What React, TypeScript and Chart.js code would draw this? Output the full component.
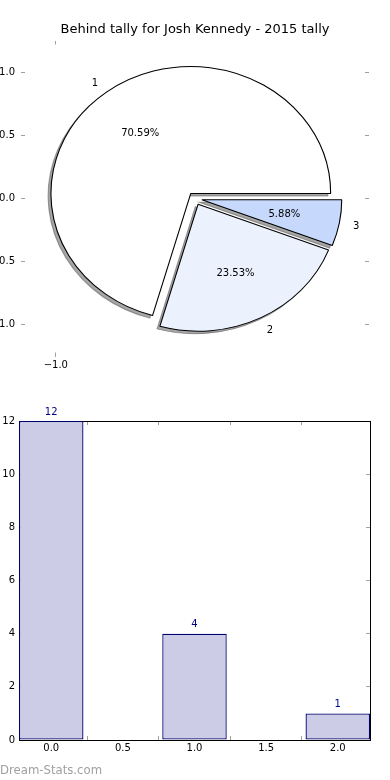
import React, { useEffect, useRef } from "react";
import { Chart, registerables } from "chart.js";

Chart.register(...registerables);

// ---------- data ----------
const TITLE = "Behind tally for Josh Kennedy - 2015 tally";
const SLICE_LABELS = ["1", "2", "3"];
const SLICE_VALUES = [12, 4, 1];
const SLICE_COLORS = ["#ffffff", "#ebf1fd", "#c6d9fd"];
const SLICE_EXPLODE = [0.05, 0.05, 0.05];
const PIE_X_TICKS = [-1.0];
const PIE_Y_TICKS = [1.0, 0.5, 0.0, -0.5, -1.0];

const BAR_X = [0, 1, 2];
const BAR_VALUES = [12, 4, 1];
const BAR_X_TICKS = [0, 0.5, 1.0, 1.5, 2.0];
const BAR_Y_TICKS = [0, 2, 4, 6, 8, 10, 12];
const WATERMARK = "Dream-Stats.com";

// ---------- helpers ----------
const FONT = "'DejaVu Sans', sans-serif";
const TICK_COLOR = "#a0a0a0";
Chart.defaults.font.family = FONT;
Chart.defaults.font.size = 10;
Chart.defaults.color = "#000";

const fmt = (v: number) => {
  const s = Math.abs(v).toFixed(1);
  return v < -1e-9 ? "\u2212" + s : s;
};

const setTicks = (arr: number[]) => (scale: any) => {
  scale.ticks = arr.map((value) => ({ value }));
};
const fixWidth = (w: number) => (scale: any) => {
  scale.width = w;
};
const fixHeight = (h: number) => (scale: any) => {
  scale.height = h;
};

const axisBase = (showBorder: boolean, padding: number) => ({
  type: "linear" as const,
  grid: {
    display: true,
    drawOnChartArea: false,
    drawTicks: true,
    tickLength: -4,
    tickColor: TICK_COLOR,
    tickWidth: 1,
  },
  border: { display: showBorder, color: "#000", width: 1 },
  ticks: { padding, color: "#000", font: { size: 10, family: FONT }, callback: (v: any) => fmt(Number(v)) },
});

// reversed order so that Chart.js's clockwise drawing matches the counter-clockwise pie
const ORDER = SLICE_VALUES.map((_, i) => SLICE_VALUES.length - 1 - i);

const piePlugin = {
  id: "mplPie",
  beforeDatasetDraw() {
    return false;
  },
  afterDatasetsDraw(chart: any) {
    const ctx = chart.ctx as CanvasRenderingContext2D;
    const meta = chart.getDatasetMeta(0);
    const xs = chart.scales.x;
    const ys = chart.scales.y;
    const ppuX = xs.getPixelForValue(1) - xs.getPixelForValue(0);
    const ppuY = ys.getPixelForValue(0) - ys.getPixelForValue(1);
    const sx = ppuX / ppuY;
    const total = SLICE_VALUES.reduce((a, b) => a + b, 0);
    const arcs = meta.data;
    const geo = arcs.map((arc: any, i: number) => {
      const p = arc.getProps(["x", "y", "startAngle", "endAngle", "outerRadius"], true);
      const orig = ORDER[i];
      const mid = (p.startAngle + p.endAngle) / 2;
      const e = SLICE_EXPLODE[orig] * p.outerRadius;
      return { arc, p, orig, mid, e };
    });
    const ellipse = (cx: number, cy: number, fn: () => void) => {
      ctx.save();
      ctx.translate(cx, cy);
      ctx.scale(sx, 1);
      ctx.translate(-cx, -cy);
      fn();
      ctx.restore();
    };
    // shadows
    geo.forEach(({ p, mid, e }: any) => {
      ellipse(p.x, p.y, () => {
        const R = p.outerRadius;
        ctx.translate(Math.cos(mid) * e - 0.02 * R, Math.sin(mid) * e + 0.02 * R);
        ctx.beginPath();
        ctx.moveTo(p.x, p.y);
        ctx.arc(p.x, p.y, R, p.startAngle, p.endAngle);
        ctx.closePath();
        ctx.fillStyle = "rgba(77,77,77,0.5)";
        ctx.strokeStyle = "rgba(77,77,77,0.5)";
        ctx.lineWidth = 1;
        ctx.fill();
        ctx.stroke();
      });
    });
    // wedges
    geo.forEach(({ arc, p, mid, e }: any) => {
      ellipse(p.x, p.y, () => {
        ctx.translate(Math.cos(mid) * e, Math.sin(mid) * e);
        arc.draw(ctx);
      });
    });
    // labels
    ctx.save();
    ctx.fillStyle = "#000";
    ctx.font = `10px ${FONT}`;
    ctx.textBaseline = "middle";
    geo.forEach(({ p, orig, mid, e }: any) => {
      const R = p.outerRadius;
      const dx = Math.cos(mid);
      const dy = Math.sin(mid);
      const lr = e + 1.1 * R;
      ctx.textAlign = dx < 0 ? "right" : "left";
      ctx.fillText(SLICE_LABELS[orig], p.x + sx * dx * lr, p.y + dy * lr + 1);
      const pr = e + 0.6 * R;
      ctx.textAlign = "center";
      ctx.fillText(((SLICE_VALUES[orig] / total) * 100).toFixed(2) + "%", p.x + sx * dx * pr, p.y + dy * pr + 1);
    });
    ctx.restore();
  },
};

const barLabelPlugin = {
  id: "barLabels",
  afterDatasetsDraw(chart: any) {
    const ctx = chart.ctx as CanvasRenderingContext2D;
    const meta = chart.getDatasetMeta(0);
    ctx.save();
    ctx.fillStyle = "#00008b";
    ctx.font = `10px ${FONT}`;
    ctx.textAlign = "center";
    ctx.textBaseline = "middle";
    meta.data.forEach((bar: any, i: number) => {
      const { x, y } = bar.getProps(["x", "y"], true);
      ctx.fillText(String(BAR_VALUES[i]), x, y - 9);
    });
    ctx.restore();
  },
};

function PieChart() {
  const ref = useRef<HTMLCanvasElement>(null);
  useEffect(() => {
    const chart = new Chart(ref.current!, {
      type: "pie",
      data: {
        labels: ORDER.map((i) => SLICE_LABELS[i]),
        datasets: [
          {
            data: ORDER.map((i) => SLICE_VALUES[i]),
            backgroundColor: ORDER.map((i) => SLICE_COLORS[i]),
            borderColor: "#000",
            borderWidth: 1,
          },
        ],
      },
      options: {
        animation: false,
        responsive: false,
        devicePixelRatio: 1,
        events: [],
        rotation: 90,
        radius: 127,
        layout: { padding: 0 },
        plugins: {
          legend: { display: false },
          tooltip: { enabled: false },
          title: {
            display: true,
            text: TITLE,
            color: "#000",
            font: { size: 13, weight: "normal", family: FONT },
            padding: { top: 22, bottom: 0 },
          },
        },
        scales: {
          x: {
            ...axisBase(false, 7),
            position: "bottom",
            min: -1.25,
            max: 1.25,
            afterBuildTicks: setTicks(PIE_X_TICKS),
            afterFit: fixHeight(23.5),
          },
          x2: {
            ...axisBase(false, 0),
            position: "top",
            min: -1.25,
            max: 1.25,
            ticks: { display: false },
            afterBuildTicks: setTicks(PIE_X_TICKS),
            afterFit: fixHeight(2.9),
          },
          y: {
            ...axisBase(false, 10),
            position: "left",
            min: -1.25,
            max: 1.25,
            afterBuildTicks: setTicks(PIE_Y_TICKS),
            afterFit: fixWidth(21),
          },
          y2: {
            ...axisBase(false, 0),
            position: "right",
            min: -1.25,
            max: 1.25,
            ticks: { display: false },
            afterBuildTicks: setTicks(PIE_Y_TICKS),
            afterFit: fixWidth(21),
          },
        },
      } as any,
      plugins: [piePlugin],
    });
    return () => chart.destroy();
  }, []);
  return <canvas ref={ref} width={390} height={380} style={{ position: "absolute", left: 0, top: 0, width: 390, height: 380 }} />;
}

function BarChart() {
  const ref = useRef<HTMLCanvasElement>(null);
  useEffect(() => {
    const chart = new Chart(ref.current!, {
      type: "bar",
      data: {
        datasets: [
          {
            data: BAR_X.map((x, i) => ({ x, y: BAR_VALUES[i] })),
            backgroundColor: "#ccccE6",
            borderColor: "#00006e",
            borderWidth: 1.3,
            borderSkipped: false,
            // ruler = tick spacing (0.5 units); 0.9 of it = 0.45 units wide bars
            barPercentage: 0.9,
            categoryPercentage: 1,
          },
        ],
      },
      options: {
        animation: false,
        responsive: false,
        devicePixelRatio: 1,
        events: [],
        layout: { padding: 0 },
        plugins: { legend: { display: false }, tooltip: { enabled: false } },
        scales: {
          x: {
            ...axisBase(true, 6),
            position: "bottom",
            min: -0.225,
            max: 2.225,
            offset: false,
            afterBuildTicks: setTicks(BAR_X_TICKS),
            afterFit: fixHeight(40),
          },
          x2: {
            ...axisBase(true, 0),
            position: "top",
            min: -0.225,
            max: 2.225,
            offset: false,
            ticks: { display: false },
            afterBuildTicks: setTicks(BAR_X_TICKS),
            afterFit: fixHeight(31),
          },
          y: {
            ...axisBase(true, 8),
            position: "left",
            min: 0,
            max: 12,
            ticks: { padding: 8, color: "#000", font: { size: 10, family: FONT }, callback: (v: any) => String(v) },
            afterBuildTicks: setTicks(BAR_Y_TICKS),
            afterFit: fixWidth(19),
          },
          y2: {
            ...axisBase(true, 0),
            position: "right",
            min: 0,
            max: 12,
            ticks: { display: false },
            afterBuildTicks: setTicks(BAR_Y_TICKS),
            afterFit: fixWidth(20),
          },
        },
      } as any,
      plugins: [barLabelPlugin],
    });
    return () => chart.destroy();
  }, []);
  return <canvas ref={ref} width={390} height={390} style={{ position: "absolute", left: 0, top: 390, width: 390, height: 390 }} />;
}

export default function App() {
  return (
    <div style={{ position: "absolute", left: 0, top: 0, width: 390, height: 780, background: "#fff", overflow: "hidden" }}>
      <PieChart />
      <BarChart />
      <div
        style={{
          position: "absolute",
          left: 0,
          top: 762,
          fontFamily: FONT,
          fontSize: 11.7,
          lineHeight: "16px",
          color: "#a0a0a0",
          whiteSpace: "nowrap",
        }}
      >
        {WATERMARK}
      </div>
    </div>
  );
}
